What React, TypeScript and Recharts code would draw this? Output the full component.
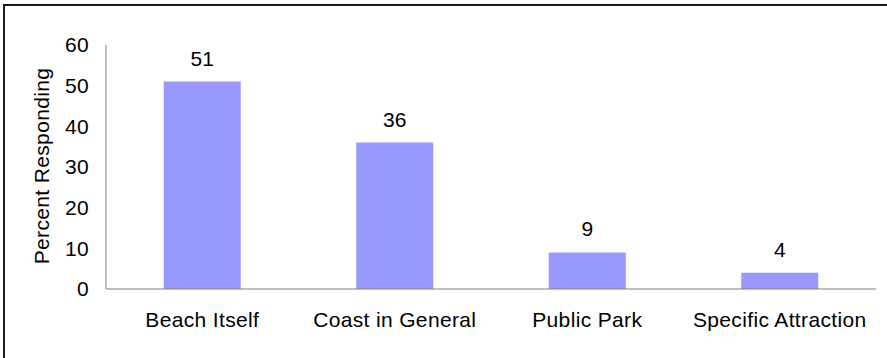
import React from 'react';
import { BarChart, Bar, XAxis, YAxis, LabelList, Label } from 'recharts';

const categories = ['Beach Itself', 'Coast in General', 'Public Park', 'Specific Attraction'];
const percents = [51, 36, 9, 4];
const yTicks = [0, 10, 20, 30, 40, 50, 60];

const data = categories.map((name, i) => ({ name, value: percents[i] }));

const FONT = '"Liberation Sans", Arial, sans-serif';
const tickStyle = { fill: '#000', fontSize: 21, fontFamily: FONT, letterSpacing: 0.35 };

const App: React.FC = () => {
  return (
    <div style={{ position: 'absolute', left: 0, top: 0, width: 887, height: 358, background: '#fff', overflow: 'hidden' }}>
      <div
        style={{
          position: 'absolute',
          left: 3,
          top: 4,
          right: 0,
          bottom: 0,
          borderTop: '2px solid #1a1a1a',
          borderLeft: '2px solid #1a1a1a',
        }}
      />
      <div style={{ position: 'absolute', left: 0, top: 0 }}>
        <BarChart width={887} height={358} data={data} margin={{ top: 45, right: 11, bottom: 39, left: 46 }} barCategoryGap="30%">
          <XAxis
            dataKey="name"
            height={30}
            tickLine={false}
            axisLine={{ stroke: '#808080' }}
            tick={tickStyle}
            tickSize={6}
            tickMargin={17}
            interval={0}
          />
          <YAxis
            width={60}
            domain={[0, 60]}
            ticks={yTicks}
            tickLine={false}
            axisLine={{ stroke: '#808080' }}
            tick={tickStyle}
            tickSize={6}
            tickMargin={11}
          >
            <Label
              content={() => (
                <text
                  x={49}
                  y={166}
                  transform="rotate(-90 49 166)"
                  textAnchor="middle"
                  fill="#000"
                  fontSize={21}
                  fontFamily={FONT}
                  letterSpacing={0.35}
                >
                  Percent Responding
                </text>
              )}
            />
          </YAxis>
          <Bar dataKey="value" fill="#9999ff" isAnimationActive={false}>
            <LabelList dataKey="value" position="top" offset={16} fill="#000" fontSize={21} fontFamily={FONT} />
          </Bar>
        </BarChart>
      </div>
    </div>
  );
};

export default App;
